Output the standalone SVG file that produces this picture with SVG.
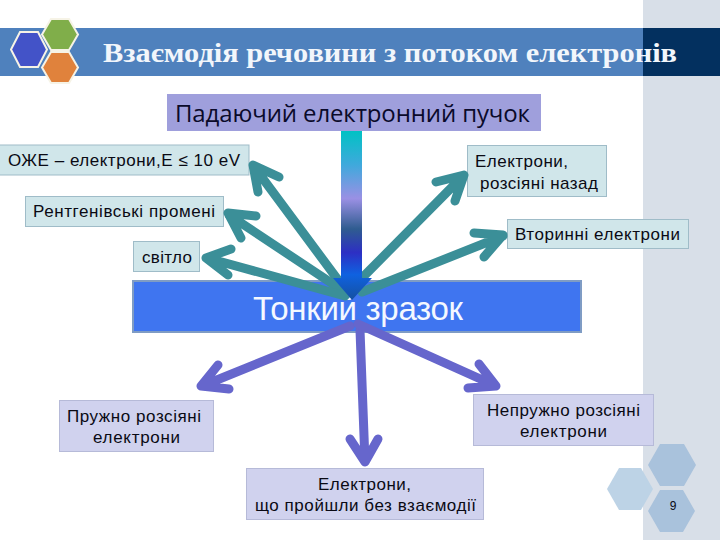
<svg xmlns="http://www.w3.org/2000/svg" width="720" height="540" viewBox="0 0 720 540">
<style>
.teal{fill:#d0e6ea;stroke:#9fbcc8}
.lav{fill:#d0d2ee;stroke:#b6bad8}
text{font-family:"Liberation Sans",Arial,sans-serif;font-size:17px;fill:#0a0a14}
.t{stroke-linecap:round;stroke-linejoin:round;fill:none;stroke:#3b8f98;stroke-width:9}
.p{stroke-linecap:round;stroke-linejoin:round;fill:none;stroke:#6666cc;stroke-width:9}
.h{stroke:#f6f3e6;stroke-width:2}
</style>
<defs>
<linearGradient id="beam" gradientUnits="userSpaceOnUse" x1="0" y1="131" x2="0" y2="300">
<stop offset="0" stop-color="#00c2c4"/>
<stop offset="0.2" stop-color="#3fa9dc"/>
<stop offset="0.4" stop-color="#9a90e4"/>
<stop offset="0.58" stop-color="#2f5c90"/>
<stop offset="0.72" stop-color="#2d2fc4"/>
<stop offset="0.85" stop-color="#0f62e0"/>
<stop offset="1" stop-color="#1550a0"/>
</linearGradient>
</defs>
<rect x="643" y="0" width="77" height="540" fill="#d8dfe8"/>
<g id="title">
<rect x="0" y="28" width="643" height="48" fill="#4f81bd"/>
<rect x="643" y="28" width="77" height="48" fill="#03305f"/>
<polygon class="h" points="20,32 38,32 47,49.500 38,67 20,67 11,49.500" fill="#4353c8"/>
<polygon class="h" points="51,19 69,19 78,34.500 69,50 51,50 42,34.500" fill="#80ae4a"/>
<polygon class="h" points="51,52 69,52 78,67.500 69,83 51,83 42,67.500" fill="#e0823c"/>
<text x="103" y="62" textLength="574" lengthAdjust="spacingAndGlyphs" style="font-family:'Liberation Serif','DejaVu Serif',serif;font-weight:bold;font-size:27px;fill:#f2f6fb">Взаємодія речовини з потоком електронів</text>
</g>
<g id="beam-source">
<rect x="167" y="94" width="374" height="37" fill="#9f9fdc"/>
<text x="175" y="122" textLength="355" style="font-family:'Open Sans',sans-serif;font-size:24px;fill:#0a0a2a">Падаючий електронний пучок</text>
</g>
<g id="auger"><rect class="teal" x="-1" y="145" width="250" height="30"/><text x="8" y="166" textLength="232">ОЖЕ – електрони,Е ≤ 10 eV</text></g>
<g id="backscattered"><rect class="teal" x="467.500" y="145.500" width="139" height="51"/><text x="475" y="167" textLength="93">Електрони,</text><text x="480" y="189" textLength="118">розсіяні назад</text></g>
<g id="xray"><rect class="teal" x="25.500" y="196.500" width="198" height="30"/><text x="33" y="217" textLength="182">Рентгенівські промені</text></g>
<g id="secondary"><rect class="teal" x="507.500" y="219.500" width="181" height="29"/><text x="515" y="240" textLength="165">Вторинні електрони</text></g>
<g id="light"><rect class="teal" x="133.500" y="241.500" width="66" height="30"/><text x="142" y="263" textLength="50">світло</text></g>
<g id="sample"><rect x="133" y="281" width="448" height="51" fill="#3f75f0" stroke="#7f9cc4" stroke-width="2"/><text x="253" y="320" textLength="210" style="font-size:33px;fill:#f4f8ff">Тонкий зразок</text></g>
<g id="elastic"><rect class="lav" x="59.500" y="400.500" width="154" height="51"/><text x="67" y="422" textLength="134">Пружно розсіяні</text><text x="93" y="443" textLength="87">електрони</text></g>
<g id="inelastic"><rect class="lav" x="473.500" y="394.500" width="180" height="51"/><text x="487" y="416" textLength="153">Непружно розсіяні</text><text x="520" y="437" textLength="87">електрони</text></g>
<g id="transmitted"><rect class="lav" x="246.500" y="468.500" width="237" height="51"/><text x="318" y="490" textLength="93">Електрони,</text><text x="255" y="511" textLength="221">що пройшли без взаємодії</text></g>
<g id="page">
<polygon points="660,444 684,444 696,465 684,486 660,486 648,465" fill="#a9c2dc"/>
<polygon points="619,468 641,468 653,489 641,510 619,510 607,489" fill="#bdd3e6"/>
<polygon points="660,490 683,490 695,511 683,532 660,532 648,511" fill="#a9c2dc"/>
<text x="673" y="510" text-anchor="middle" style="font-size:12px">9</text>
</g>
<g id="connectors">
<path class="t" d="M344,288L255,168M279,177L253,165L258,192"/>
<path class="t" d="M345,292L229,215M256,216L228,213L241,238"/>
<path class="t" d="M345,296L207,258M231,249L206,258L228,275"/>
<path class="t" d="M362,278L463,176M436,182L464,175L455,201"/>
<path class="t" d="M362,292L503,236M474,233L503,235L484,257"/>
<polygon points="341,131 362,131 362,278 372,278 352,300 333,278 341,278" fill="url(#beam)"/>
<path class="p" d="M350,326L202,386M218,365L201,386L229,389"/>
<path class="p" d="M360,330L365,462M350,439L365,462L378,439"/>
<path class="p" d="M358,324L496,386M479,364L496,386L468,388"/>
</g>
</svg>
